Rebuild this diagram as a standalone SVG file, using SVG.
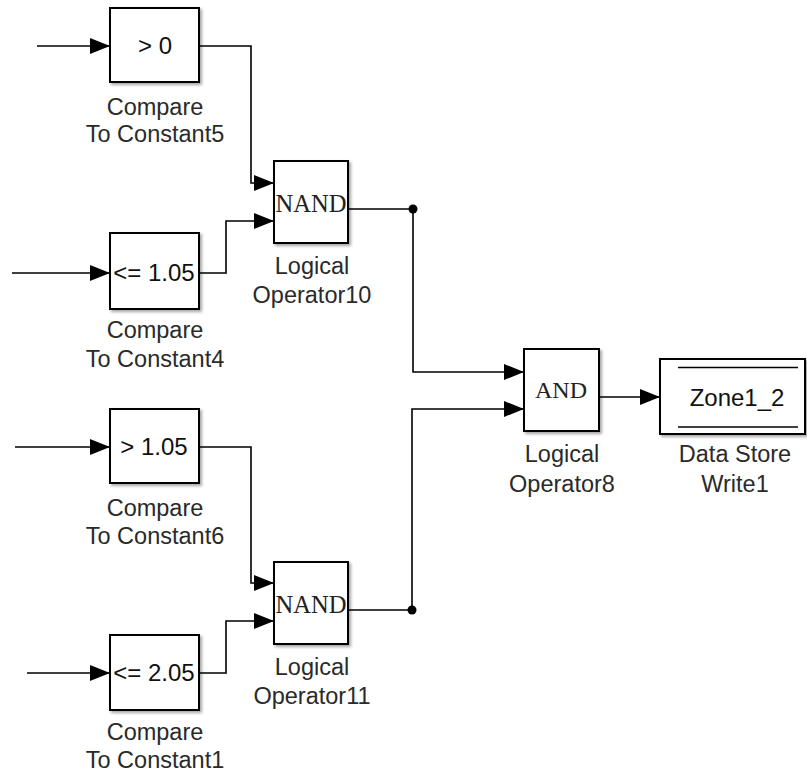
<svg xmlns="http://www.w3.org/2000/svg" width="807" height="778" viewBox="0 0 807 778">
<style>
.blk{fill:#fff;stroke:#000;stroke-width:2;filter:url(#sh)}
.w{fill:none;stroke:#000;stroke-width:1.6}
.wa{fill:none;stroke:#000;stroke-width:1.6;marker-end:url(#arr)}
.lbl{font-family:"Liberation Sans",Arial,sans-serif;font-size:23.5px;fill:#2a2a2a;text-anchor:middle}
.in{font-family:"Liberation Sans",Arial,sans-serif;font-size:24px;fill:#111;text-anchor:middle}
.ser{font-family:"Liberation Serif","Times New Roman",serif;font-size:24px;fill:#222;text-anchor:middle}
.nand{font-family:"Liberation Serif","Times New Roman",serif;font-size:26px;fill:#222;text-anchor:middle}
</style>
<defs>
<filter id="sh" x="-10%" y="-10%" width="130%" height="130%">
<feDropShadow dx="2" dy="2" stdDeviation="1.5" flood-color="#000" flood-opacity="0.35"/>
</filter>
<marker id="arr" markerUnits="userSpaceOnUse" markerWidth="20" markerHeight="16" viewBox="0 0 20 16" refX="20" refY="8" orient="auto">
<path d="M0,0 L20,8 L0,16 Z" fill="#000"/>
</marker>
</defs>
<rect width="807" height="778" fill="#fff"/>
<g id="connectors">
<path class="wa" d="M37,46 H110"/>
<path class="wa" d="M12,273 H110"/>
<path class="wa" d="M15,447 H110"/>
<path class="wa" d="M27,673 H110"/>
<path class="wa" d="M199,46 H251 V183 H274"/>
<path class="wa" d="M199,273 H226 V221 H274"/>
<path class="wa" d="M199,447 H251 V583 H274"/>
<path class="wa" d="M199,673 H226 V621 H274"/>
<path class="wa" d="M349,209 H413 V372 H524"/>
<path class="wa" d="M349,610 H412 V409 H524"/>
<path class="wa" d="M599,397 H660"/>
<circle cx="413" cy="209" r="4.5" fill="#000"/>
<circle cx="412" cy="610" r="4.5" fill="#000"/>
</g>
<g id="compare5">
<rect class="blk" x="110" y="8" width="89" height="74"/>
<text class="in" x="155" y="54">&gt; 0</text>
<text class="lbl" x="155" y="115">Compare</text>
<text class="lbl" x="155" y="142">To Constant5</text>
</g>
<g id="compare4">
<rect class="blk" x="110" y="233" width="89" height="76"/>
<text class="in" x="154" y="281">&lt;= 1.05</text>
<text class="lbl" x="155" y="338">Compare</text>
<text class="lbl" x="155" y="367">To Constant4</text>
</g>
<g id="compare6">
<rect class="blk" x="110" y="409" width="89" height="74"/>
<text class="in" x="154" y="455">&gt; 1.05</text>
<text class="lbl" x="155" y="516">Compare</text>
<text class="lbl" x="155" y="544">To Constant6</text>
</g>
<g id="compare1">
<rect class="blk" x="110" y="635" width="89" height="75"/>
<text class="in" x="154" y="681">&lt;= 2.05</text>
<text class="lbl" x="155" y="740">Compare</text>
<text class="lbl" x="155" y="768">To Constant1</text>
</g>
<g id="logop10">
<rect class="blk" x="274" y="161" width="74" height="82"/>
<text class="nand" x="311" y="212" textLength="71" lengthAdjust="spacingAndGlyphs">NAND</text>
<text class="lbl" x="312" y="274">Logical</text>
<text class="lbl" x="312" y="303">Operator10</text>
</g>
<g id="logop11">
<rect class="blk" x="274" y="562" width="74" height="82"/>
<text class="nand" x="311" y="613" textLength="71" lengthAdjust="spacingAndGlyphs">NAND</text>
<text class="lbl" x="312" y="675">Logical</text>
<text class="lbl" x="312" y="704">Operator11</text>
</g>
<g id="logop8">
<rect class="blk" x="524" y="349" width="75" height="82"/>
<text class="ser" x="561" y="398">AND</text>
<text class="lbl" x="562" y="462">Logical</text>
<text class="lbl" x="562" y="492">Operator8</text>
</g>
<g id="dswrite1">
<rect class="blk" x="660" y="359" width="145" height="75"/>
<line x1="678" y1="367.5" x2="798" y2="367.5" stroke="#000" stroke-width="1.6"/>
<line x1="678" y1="427" x2="798" y2="427" stroke="#000" stroke-width="1.6"/>
<text class="in" x="737" y="406">Zone1_2</text>
<text class="lbl" x="735" y="462">Data Store</text>
<text class="lbl" x="735" y="492">Write1</text>
</g>
</svg>
